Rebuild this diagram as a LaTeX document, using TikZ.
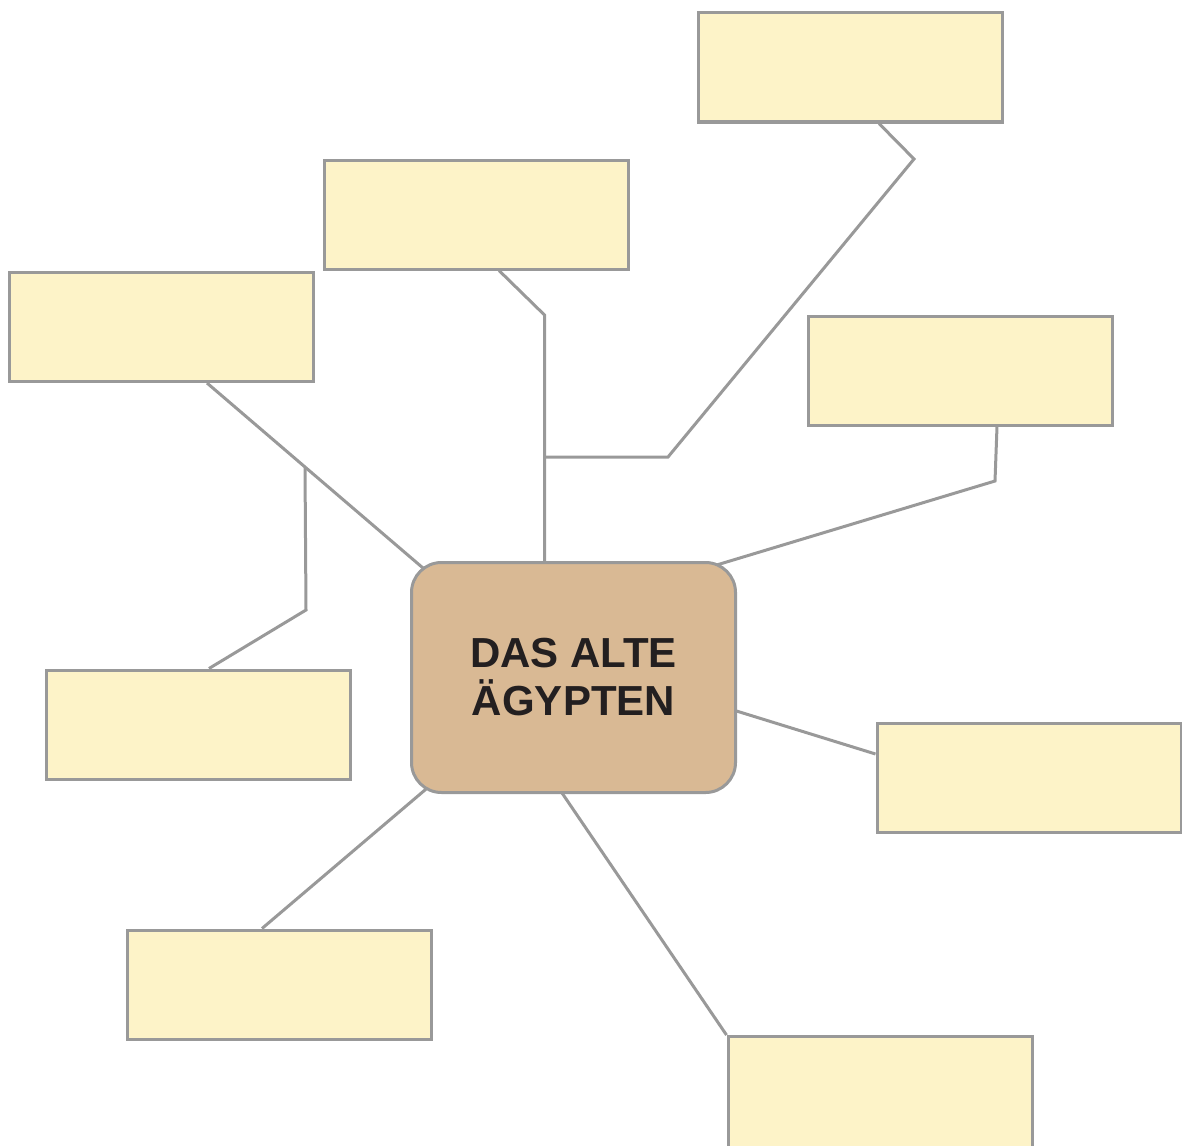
\documentclass[tikz,border=0pt]{standalone}
\usepackage{fontspec}
\setmainfont{Liberation Sans}
\usetikzlibrary{calc,backgrounds}
\definecolor{linegray}{HTML}{999999}
\definecolor{boxfill}{HTML}{FDF3C8}
\definecolor{centerfill}{HTML}{D9B994}
\definecolor{textdark}{HTML}{231F20}
\tikzset{
  leafbox/.style={draw=linegray, line width=3pt, fill=boxfill, rectangle,
    minimum width=304pt, minimum height=109pt, inner sep=0pt},
  centerbox/.style={draw=linegray, line width=3pt, fill=centerfill, rectangle,
    rounded corners=30pt, minimum width=324pt, minimum height=230pt,
    align=center, font=\bfseries\fontsize{42}{48}\selectfont, text=textdark},
  conn/.style={draw=linegray, line width=3pt, line join=miter}
}
\begin{document}
\begin{tikzpicture}[x=1pt,y=-1pt]
\useasboundingbox (0,0) rectangle (1182,1145);
\node[leafbox] (b1) at (850,67.5) {};
\node[leafbox] (b2) at (476,214.5) {};
\node[leafbox] (b3) at (161,327) {};
\node[leafbox] (b4) at (960,370.5) {};
\node[leafbox] (b5) at (198.5,724.5) {};
\node[leafbox] (b6) at (1029,778) {};
\node[leafbox] (b7) at (279,984.5) {};
\node[leafbox, minimum height=116pt] (b8) at (880,1094.5) {};
\node[centerbox] (c) at (573.5,677.5) {DAS ALTE\\ÄGYPTEN};
\coordinate (j1) at (544.5,457);
\coordinate (j3) at (305,467);
\begin{pgfonlayer}{background}
\draw[conn] ([xshift=29pt]b1.south) -- (914,159) -- (668,457) -- (j1);
\draw[conn] ([xshift=23pt]b2.south) -- (544.5,315) -- (544.5,570);
\draw[conn] ([xshift=46pt]b3.south) -- (j3) -- (430,574);
\draw[conn] ([xshift=10.5pt]b5.north) -- (306,610) -- (j3);
\draw[conn] ([xshift=37pt]b4.south) -- (995,481) -- (710,567);
\draw[conn] ([yshift=24pt]b6.west) -- (730,709);
\draw[conn] ([xshift=-17pt]b7.north) -- (432,784);
\draw[conn] (b8.north west) -- (560,790);
\end{pgfonlayer}
\end{tikzpicture}
\end{document}
